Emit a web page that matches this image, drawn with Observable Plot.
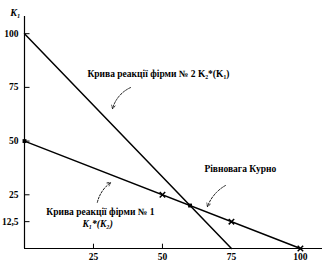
<!DOCTYPE html>
<html><head><meta charset="utf-8">
<script src="https://cdn.jsdelivr.net/npm/d3@7"></script>
<script src="https://cdn.jsdelivr.net/npm/@observablehq/plot@0.6"></script>
<style>body{margin:0;background:#fff}</style>
</head><body><div id="chart"></div>
<script>
// Reaction curve of firm 1: K1*(K2)
const curve1K2 = [0, 100];
const curve1K1 = [50, 0];
// Reaction curve of firm 2: K2*(K1)
const curve2K2 = [0, 75];
const curve2K1 = [100, 0];
// Cournot equilibrium
const eqK2 = [60];
const eqK1 = [20];
// direction marks on curve 1
const markK2 = [50, 75, 100];
const markK1 = [25, 12.5, 0];
// axis ticks
const xTicks = [25, 50, 75, 100];
const yTicks = [100, 75, 50, 25, 12.5];

const curve1 = curve1K2.map((k2, i) => ({K2: k2, K1: curve1K1[i]}));
const curve2 = curve2K2.map((k2, i) => ({K2: k2, K1: curve2K1[i]}));
const eq = eqK2.map((k2, i) => ({K2: k2, K1: eqK1[i]}));
const marks = markK2.map((k2, i) => ({K2: k2, K1: markK1[i]}));
const squares = [{K2: curve1K2[0], K1: curve1K1[0]}, ...eq];

const font = "Liberation Serif";
const chart = Plot.plot({
  width: 325,
  height: 264,
  marginLeft: 24,
  marginRight: 3,
  marginTop: 16,
  marginBottom: 16,
  style: {fontFamily: font, fontSize: "9.5px", fontWeight: "bold", color: "#000", background: "#fff"},
  x: {domain: [0, 108]},
  y: {domain: [0, 108]},
  marks: [
    Plot.axisX({ticks: xTicks, tickSize: 0, tickPadding: 5, label: null}),
    Plot.axisY({ticks: yTicks, tickSize: 0, tickPadding: 6, label: null,
      tickFormat: d => String(d).replace(".", ",")}),
    Plot.ruleX([0], {y1: 0, y2: 108, stroke: "#000", strokeWidth: 1.2}),
    Plot.ruleY([0], {x1: 0, x2: 108, stroke: "#000", strokeWidth: 1.2}),
    Plot.ruleX(xTicks.slice(0, 2), {y1: 0, y2: 2, stroke: "#000"}),
    Plot.ruleY(yTicks, {x1: 0, x2: 2, stroke: "#000"}),
    Plot.line(curve1, {x: "K2", y: "K1", stroke: "#000", strokeWidth: 1.5}),
    Plot.line(curve2, {x: "K2", y: "K1", stroke: "#000", strokeWidth: 1.5}),
    Plot.dot(squares, {x: "K2", y: "K1", symbol: "square", fill: "#000", r: 2.2}),
    Plot.dot(marks, {x: "K2", y: "K1", symbol: "times", stroke: "#000", strokeWidth: 1.5, r: 2.6}),
    Plot.arrow([0], {x1: 38.4, y1: 74.9, x2: 31.9, y2: 65.1, bend: -25, stroke: "#000",
      strokeWidth: 0.9, strokeDasharray: "2,1.5", headLength: 6}),
    Plot.arrow([0], {x1: 26.4, y1: 21.5, x2: 31.2, y2: 30.7, bend: 20, stroke: "#000",
      strokeWidth: 0.9, strokeDasharray: "2,1.5", headLength: 6}),
    Plot.arrow([0], {x1: 72.8, y1: 29.3, x2: 66.3, y2: 19.5, bend: -20, stroke: "#000",
      strokeWidth: 0.9, strokeDasharray: "2,1.5", headLength: 6}),
    Plot.text(["Крива реакції фірми № 2 K₂*(K₁)"], {x: 22.8, y: 81.4, textAnchor: "start",
      fontSize: 9.5, fontWeight: "bold", fontFamily: font}),
    Plot.text(["Рівновага Курно"], {x: 78.2, y: 37, textAnchor: "middle",
      fontSize: 9.5, fontWeight: "bold", fontFamily: font}),
    Plot.text(["Крива реакції фірми № 1"], {x: 27.5, y: 16.8, textAnchor: "middle",
      fontSize: 9.5, fontWeight: "bold", fontFamily: font}),
    Plot.text(["K₁*(K₂)"], {x: 26.5, y: 11.2, textAnchor: "middle",
      fontSize: 9.5, fontWeight: "bold", fontStyle: "italic", fontFamily: font}),
    Plot.text(["K₁"], {x: -3.3, y: 109.8, textAnchor: "middle",
      fontSize: 10, fontWeight: "bold", fontStyle: "italic", fontFamily: font})
  ]
});
document.getElementById("chart").appendChild(chart);
</script>
</body></html>
